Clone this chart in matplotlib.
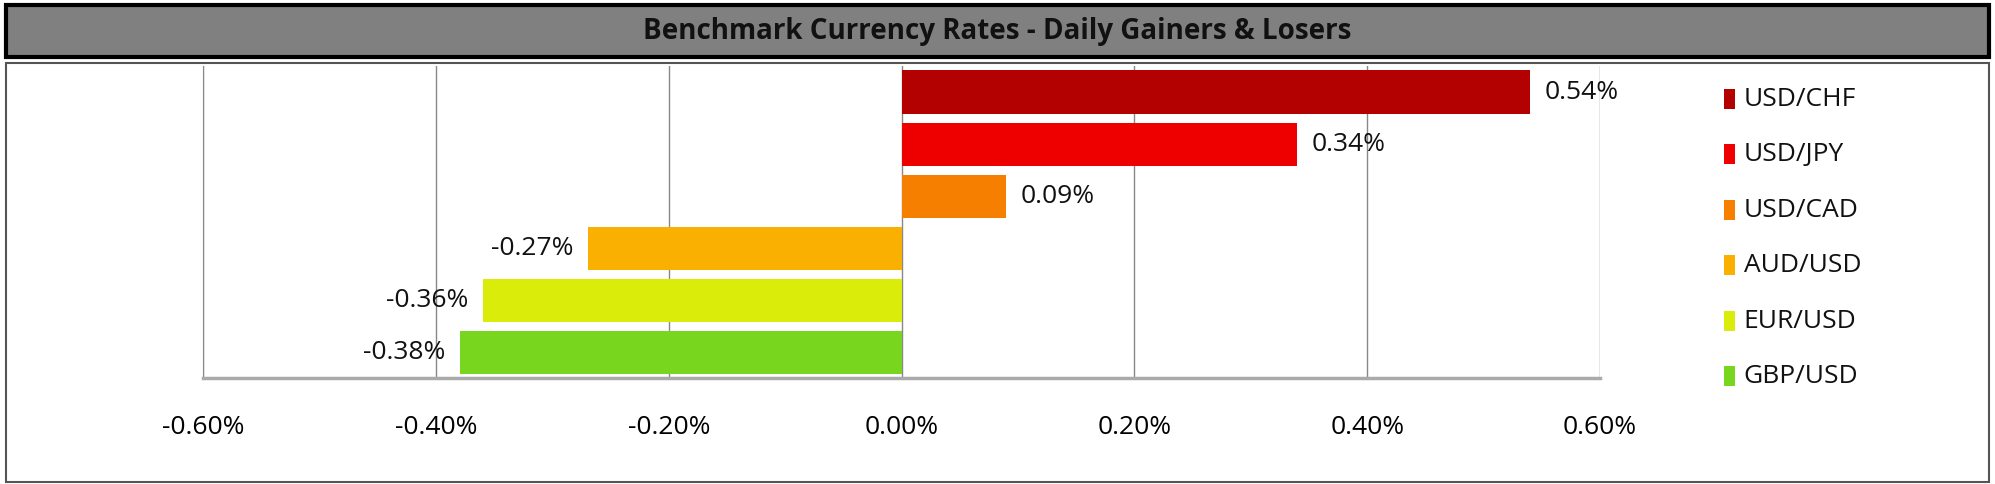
import matplotlib
matplotlib.use("Agg")
import matplotlib.pyplot as plt
from matplotlib.patches import Rectangle
from matplotlib.ticker import FuncFormatter

pairs = ["USD/CHF", "USD/JPY", "USD/CAD", "AUD/USD", "EUR/USD", "GBP/USD"]
values = [0.54, 0.34, 0.09, -0.27, -0.36, -0.38]
colors = ["#b30000", "#ee0000", "#f77f00", "#f9b000", "#d9ec0a", "#77d61d"]
xticks = [-0.6, -0.4, -0.2, 0.0, 0.2, 0.4, 0.6]

plt.rcParams['font.family'] = ['Open Sans', 'DejaVu Sans']
fig = plt.figure(figsize=(19.95, 4.84), dpi=100)
fig.patch.set_facecolor("white")

fig.add_artist(Rectangle((0.003, 0.005), 0.994, 0.865, transform=fig.transFigure,
                         fill=False, edgecolor="#555555", lw=1.5))
fig.add_artist(Rectangle((0.003, 0.882), 0.994, 0.108, transform=fig.transFigure,
                         facecolor="#808080", edgecolor="black", lw=3))
fig.text(0.5, 0.934, "Benchmark Currency Rates - Daily Gainers & Losers",
         ha="center", va="center", fontsize=20, fontweight="bold", color="#111111")

ax = fig.add_axes([0.102, 0.218, 0.700, 0.645])
y = list(range(len(pairs)))
ax.barh(y, values, height=0.84, color=colors, zorder=3)
ax.set_ylim(len(pairs) - 0.5, -0.5)
ax.set_xlim(-0.6, 0.6)
ax.set_xticks(xticks)
ax.xaxis.set_major_formatter(FuncFormatter(lambda v, p: f"{v:.2f}%"))
ax.tick_params(axis="x", length=0, pad=26, labelsize=19)
ax.set_yticks([])
ax.grid(axis="x", color="#888888", lw=1, zorder=0)
for s in ["top", "right"]:
    ax.spines[s].set_visible(False)
ax.spines["left"].set_color("#888888")
ax.spines["bottom"].set_color("#aaaaaa")
ax.spines["bottom"].set_linewidth(2.5)
for yi, v in zip(y, values):
    off = 0.012 if v >= 0 else -0.012
    ax.text(v + off, yi, f"{v:.2f}%", ha="left" if v >= 0 else "right",
            va="center", fontsize=19, color="#111111", zorder=4)

for i, (p, c) in enumerate(zip(pairs, colors)):
    yy = 0.795 - i * 0.1147
    fig.add_artist(Rectangle((0.864, yy - 0.02), 0.0055, 0.042, transform=fig.transFigure,
                             facecolor=c, edgecolor="none"))
    fig.text(0.874, yy, p, ha="left", va="center", fontsize=19, color="#111111")

fig.savefig("out.png", dpi=100)
